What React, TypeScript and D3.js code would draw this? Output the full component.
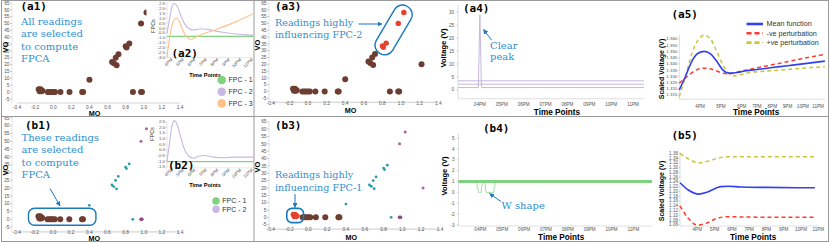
import React from 'react';
import * as d3 from 'd3';

type Pt = [number, number];

// ---- scatter readings (MO, VO) ----
const fpc1Readings: Pt[] = [[-0.16, 2], [-0.15, 0.5], [-0.14, 2], [-0.13, 0.5], [-0.12, 1]];
const otherLowReadings: Pt[] = [[-0.06, 0], [-0.04, 0], [-0.02, 0], [0, 0], [0.02, 0], [0.08, 0], [0.18, 0], [0.32, 0], [0.33, 0]];
const lowReadings: Pt[] = [...fpc1Readings, ...otherLowReadings];
const tealReadings: Pt[] = [[0.4, 9], [0.65, 22], [0.67, 21], [0.69, 25], [0.7, 19.5], [0.72, 27.5], [0.8, 33.5], [0.81, 32.5], [0.84, 35.5], [0.88, 0]];
const magentaReadings: Pt[] = [[0.97, 50], [1.03, 58], [1.22, 20]];
const purpleReadings: Pt[] = [[0.97, 0], [0.98, 0]];
const fpc2Readings: Pt[] = [[0.8, 33.5], [0.81, 32.5], [0.84, 35.5], [0.97, 50], [1.03, 58]];
const allReadings: Pt[] = [...lowReadings, ...tealReadings, ...magentaReadings, ...purpleReadings];

const moTicks = [-0.4, -0.2, 0, 0.2, 0.4, 0.6, 0.8, 1.0, 1.2, 1.4];
const voTicks = [-5, 0, 5, 10, 15, 20, 25, 30, 35, 40, 45, 50, 55, 60, 65];

// ---- FPC insets (hour, value) ----
const hourTicks = [16, 17, 18, 19, 20, 21, 22, 23];
const hourLabels = ['4PM', '5PM', '6PM', '7PM', '8PM', '9PM', '10PM', '11PM'];
const hourLabels0 = ['04PM', '05PM', '06PM', '07PM', '08PM', '09PM', '10PM', '11PM'];

const a2Fpc1: Pt[] = [[15.5, -0.85], [23, -0.85]];
const a2Fpc2: Pt[] = [[15.5, -0.55], [15.7, 0.8], [15.9, 2.0], [16.1, 2.5], [16.35, 2.3], [16.7, 1.3], [17.0, 0.5], [17.4, -0.05], [17.8, -0.2], [18.3, -0.1], [18.8, -0.1], [19.5, -0.25], [20.5, -0.45], [21.5, -0.6], [22.5, -0.7], [23, -0.75]];
const a2Fpc3: Pt[] = [[15.5, -3.0], [15.7, -1.2], [15.95, 0.3], [16.3, 1.0], [16.6, 0.6], [16.9, -0.3], [17.3, -1.0], [17.6, -1.15], [18.0, -0.95], [18.5, -0.65], [19.0, -0.45], [20, -0.05], [21, 0.4], [22, 0.9], [23, 1.45]];
const a2Ticks = [2.5, 2.0, 1.5, 1.0, 0.5, 0, -0.5, -1.0, -1.5, -2.0, -2.5, -3.0];

const b2Fpc1: Pt[] = [[15.5, -1.05], [23, -1.05]];
const b2Fpc2: Pt[] = [[15.5, -1.0], [15.7, 0.5], [15.95, 2.2], [16.15, 2.6], [16.4, 2.2], [16.7, 1.1], [17.0, 0.1], [17.4, -0.55], [17.8, -0.75], [18.3, -0.55], [18.8, -0.5], [19.5, -0.65], [20.5, -0.7], [21.5, -0.65], [23, -0.65]];
const b2Ticks = [2.5, 2.0, 1.5, 1.0, 0.5, 0, -0.5, -1.0, -1.5];

// ---- voltage readings (hour, volts) ----
const a4Readings: Pt[][] = [
  [[15, 3.5], [23.5, 3.5]],
  [[15, 2.2], [23.5, 2.2]],
  [[15, 0.9], [15.93, 0.9], [16.0, 29], [16.07, 0.9], [23.5, 0.9]],
];
const a4Ticks = [0, 5, 10, 15, 20, 25, 30];
const b4Band: Pt[] = [[15, 1], [23.85, 1]];
const b4WReading: Pt[] = [[15, 1], [15.82, 1], [15.92, 0], [16.03, 0], [16.1, 1], [16.2, 1], [16.26, 0], [16.6, 0], [16.7, 1], [23.85, 1]];
const b4Ticks = [5, 4, 3, 2, 1, 0, -1, -2, -3];

// ---- mean function and perturbations (hour, scaled volts) ----
const a5Mean: Pt[] = [[15, 1.319], [15.3, 1.33], [15.6, 1.342], [15.9, 1.3485], [16.2, 1.35], [16.5, 1.348], [16.8, 1.342], [17.1, 1.335], [17.4, 1.3325], [17.8, 1.333], [18.3, 1.3345], [19, 1.3355], [20, 1.337], [21, 1.3385], [22, 1.34], [23.44, 1.3422]];
const a5Neg: Pt[] = [[15, 1.3245], [15.4, 1.33], [15.8, 1.335], [16.2, 1.3365], [16.6, 1.3355], [17.0, 1.333], [17.4, 1.332], [17.8, 1.3335], [18.5, 1.3355], [19.5, 1.338], [20.5, 1.3405], [21.5, 1.343], [22.5, 1.3455], [23.44, 1.3475]];
const a5Pos: Pt[] = [[15, 1.3136], [15.3, 1.33], [15.6, 1.348], [15.9, 1.359], [16.2, 1.363], [16.5, 1.36], [16.8, 1.35], [17.1, 1.339], [17.4, 1.332], [17.7, 1.3303], [18.0, 1.3315], [18.5, 1.333], [19.5, 1.334], [20.5, 1.335], [21.5, 1.336], [22.5, 1.337], [23.44, 1.3378]];
const a5Ticks = [1.36, 1.355, 1.35, 1.345, 1.34, 1.335, 1.33, 1.325, 1.32, 1.315];

const b5Mean: Pt[] = [[15, 1.2365], [15.5, 1.205], [16.1, 1.189], [16.6, 1.198], [17.35, 1.2203], [17.8, 1.222], [18.5, 1.219], [20, 1.217], [22.8, 1.2155]];
const b5Neg: Pt[] = [[15, 1.139], [15.5, 1.085], [16.0, 1.059], [16.5, 1.066], [17.1, 1.086], [17.7, 1.0937], [18.5, 1.093], [20, 1.092], [22.8, 1.092]];
const b5Pos: Pt[] = [[15, 1.36], [15.5, 1.336], [16.1, 1.3205], [16.6, 1.327], [17.2, 1.34], [17.7, 1.3457], [18.5, 1.346], [20, 1.346], [22.8, 1.346]];
const b5Ticks = [1.36, 1.34, 1.32, 1.3, 1.28, 1.26, 1.24, 1.22, 1.2, 1.18, 1.16, 1.14, 1.12, 1.1, 1.08, 1.06];

const legendNames = ['Mean function', '-ve perturbation', '+ve perturbation'];
const fpcNames = ['FPC - 1', 'FPC - 2', 'FPC - 3'];

const BROWN = '#6e3d31';
const RED = '#e4412f';
const TEAL = '#2a9ea7';
const MAGENTA = '#b3609d';
const PURPLE_PT = '#8a4d8a';
const FPC_COLORS = ['#7fd37f', '#c9b7e6', '#ffc088'];
const NOTE = '#2f8fd0';
const NOTE_LINE = '#1c79bf';
const TICK = '#555';
const BLUE = '#3340ee';
const NEG = '#ff3b30';
const POS = '#c9c63e';
const SANS = '"Liberation Sans", Arial, sans-serif';
const SERIF = '"DejaVu Serif", serif';
const MONO = '"DejaVu Sans Mono", monospace';

const key = (p: Pt) => `${p[0]},${p[1]}`;
const fpc1Keys = new Set(fpc1Readings.map(key));
const fpc2Keys = new Set(fpc2Readings.map(key));

function PanelLabel({ x, y, text, size = 11 }: any) {
  return <text x={x} y={y} fontFamily={MONO} fontWeight="bold" fontSize={size}>{text}</text>;
}

function Note({ x, y, lines, step = 12.5, size = 10 }: any) {
  return (
    <text fontFamily={SERIF} fontSize={size} fill={NOTE}>
      {lines.map((l: string, i: number) => <tspan key={i} x={x} y={y + i * step}>{l}</tspan>)}
    </text>
  );
}

function Arrow({ from, to }: any) {
  return <line x1={from[0]} y1={from[1]} x2={to[0]} y2={to[1]} stroke={NOTE_LINE} strokeWidth={1} markerEnd="url(#arrowhead)" />;
}

function ScatterAxes({ x, y, axisX, tickY, moY, voPos }: any) {
  const [x0, x1] = x.range();
  const yb = y(-8);
  return (
    <g fontFamily={SANS}>
      <line x1={axisX} x2={axisX} y1={y(65)} y2={yb} stroke="#d0d0d0" strokeWidth={0.6} />
      <line x1={x0} x2={x1} y1={yb} y2={yb} stroke="#d6d6d6" strokeWidth={1.2} />
      {voTicks.map((v) => (
        <g key={v}>
          <line x1={axisX - 2} x2={axisX} y1={y(v)} y2={y(v)} stroke="#999" strokeWidth={0.5} />
          <text x={axisX - 2.5} y={y(v) + 1.7} fontSize={4.8} textAnchor="end" fill={TICK}>{v}</text>
        </g>
      ))}
      {moTicks.map((v) => (
        <text key={v} x={x(v)} y={tickY} fontSize={4.8} textAnchor="middle" fill={TICK}>{v.toFixed(1)}</text>
      ))}
      <text x={(x0 + x1) / 2 - 4} y={moY} fontSize={7.2} fontWeight="bold" textAnchor="middle">MO</text>
      <text transform={`translate(${voPos[0]},${voPos[1]}) rotate(-90)`} fontSize={7.5} fontWeight="bold" textAnchor="middle">VO</text>
    </g>
  );
}

function Dots({ pts, x, y, r, color }: any) {
  return <g>{pts.map((p: Pt, i: number) => <circle key={i} cx={x(p[0])} cy={y(p[1])} r={r} fill={color} />)}</g>;
}

function FpcInset({ bg, y, yTicks, series, legendAt, legendStep, legendR, label, fpcsPos, timeY }: any) {
  const x = d3.scaleLinear().domain([15.5, 23]).range([167, 253]);
  const line = d3.line<Pt>().x((d) => x(d[0])).y((d) => y(d[1])).curve(d3.curveMonotoneX);
  const [yb, yt] = y.range();
  return (
    <g fontFamily={SANS}>
      <rect x={bg[0]} y={bg[1]} width={bg[2] - bg[0]} height={bg[3] - bg[1]} fill="#fff" />
      <line x1={x(15.5)} x2={x(15.5)} y1={yt} y2={yb} stroke="#ccc" strokeWidth={0.5} />
      <line x1={x(15.5)} x2={x(23)} y1={yb} y2={yb} stroke="#ddd" strokeWidth={0.6} />
      {yTicks.map((v: number) => (
        <g key={v}>
          <line x1={x(15.5) - 1.5} x2={x(15.5)} y1={y(v)} y2={y(v)} stroke="#999" strokeWidth={0.4} />
          <text x={x(15.5) - 2} y={y(v) + 1.5} fontSize={4.4} textAnchor="end" fill={TICK}>{v.toFixed(1)}</text>
        </g>
      ))}
      {hourTicks.map((h, i) => (
        <text key={h} transform={`translate(${x(h)},${yb + 2.5}) rotate(-45)`} fontSize={4.4} textAnchor="end" fill={TICK}>{hourLabels[i]}</text>
      ))}
      {series.map((s: Pt[], i: number) => (
        <path key={i} d={line(s) || ''} fill="none" stroke={FPC_COLORS[i]} strokeWidth={1.1} />
      ))}
      <text transform={`translate(${fpcsPos[0]},${fpcsPos[1]}) rotate(-90)`} fontSize={5.5} textAnchor="middle" fill="#333">FPCs</text>
      <text x={205} y={timeY} fontSize={5.6} fontWeight="bold" textAnchor="middle">Time Points</text>
      {series.map((_: Pt[], i: number) => (
        <g key={i}>
          <circle cx={legendAt[0]} cy={legendAt[1] + i * legendStep} r={legendR} fill={FPC_COLORS[i]} />
          <text x={legendAt[0] + legendR + 2.5} y={legendAt[1] + i * legendStep + 2.4} fontSize={7} fill="#333">{fpcNames[i]}</text>
        </g>
      ))}
      <PanelLabel x={label[0]} y={label[1]} text={label[2]} />
    </g>
  );
}

function VoltageAxes({ x, y, ticks, tickY, titleY, voltPos }: any) {
  const [x0, x1] = x.range();
  const [yb, yt] = y.range();
  return (
    <g fontFamily={SANS}>
      <line x1={x0} x2={x0} y1={yt} y2={yb} stroke="#c8c8c8" strokeWidth={0.6} />
      <line x1={x0} x2={x1} y1={yb} y2={yb} stroke="#d8d8d8" strokeWidth={0.8} />
      {ticks.map((v: number) => (
        <g key={v}>
          <line x1={x0 - 2} x2={x0} y1={y(v)} y2={y(v)} stroke="#aaa" strokeWidth={0.4} />
          <text x={x0 - 4} y={y(v) + 1.6} fontSize={4.6} textAnchor="end" fill={TICK}>{v}</text>
        </g>
      ))}
      {hourTicks.map((h, i) => (
        <text key={h} x={x(h)} y={tickY} fontSize={4.6} textAnchor="middle" fill={TICK}>{hourLabels0[i]}</text>
      ))}
      <text x={(x0 + x1) / 2 + 6} y={titleY} fontSize={8.2} fontWeight="bold" textAnchor="middle">Time Points</text>
      <text transform={`translate(${voltPos[0]},${voltPos[1]}) rotate(-90)`} fontSize={7.6} fontWeight="bold" textAnchor="middle">Voltage (V)</text>
    </g>
  );
}

function PerturbPanel({ x, y, ticks, digits, tickFont, tickY, titleY, scaledPos, mean, neg, pos, legend }: any) {
  const [x0, x1] = [x.range()[0], x.range()[x.range().length - 1]];
  const [yb, yt] = y.range();
  const line = d3.line<Pt>().x((d) => x(d[0])).y((d) => y(d[1])).curve(d3.curveMonotoneX);
  return (
    <g fontFamily={SANS}>
      <line x1={x0} x2={x0} y1={yt} y2={yb} stroke="#c8c8c8" strokeWidth={0.6} />
      <line x1={x0} x2={x1} y1={yb} y2={yb} stroke="#d8d8d8" strokeWidth={0.8} />
      {ticks.map((v: number) => (
        <g key={v}>
          <line x1={x0 - 1.5} x2={x0} y1={y(v)} y2={y(v)} stroke="#aaa" strokeWidth={0.4} />
          <text x={x0 - 2} y={y(v) + 1.5} fontSize={tickFont} textAnchor="end" fill={TICK}>{v.toFixed(digits)}</text>
        </g>
      ))}
      {hourTicks.map((h, i) => (
        <text key={h} x={x(h)} y={tickY} fontSize={4.6} textAnchor="middle" fill={TICK}>{hourLabels[i]}</text>
      ))}
      <path d={line(pos) || ''} fill="none" stroke={POS} strokeWidth={1.5} strokeDasharray="4 3" />
      <path d={line(neg) || ''} fill="none" stroke={NEG} strokeWidth={1.5} strokeDasharray="4 3" />
      <path d={line(mean) || ''} fill="none" stroke={BLUE} strokeWidth={1.6} />
      <text x={(x0 + x1) / 2 + 4} y={titleY} fontSize={8.2} fontWeight="bold" textAnchor="middle">Time Points</text>
      <text transform={`translate(${scaledPos[0]},${scaledPos[1]}) rotate(-90)`} fontSize={7} fontWeight="bold" textAnchor="middle">Scaled Voltage (V)</text>
      {legend && legendNames.map((n, i) => (
        <g key={n}>
          <line x1={legend[0]} x2={legend[0] + 16.5} y1={legend[1] + i * 9.3} y2={legend[1] + i * 9.3}
            stroke={[BLUE, NEG, POS][i]} strokeWidth={2.6} strokeDasharray={i === 0 ? undefined : '5 3'} />
          <text x={legend[0] + 20} y={legend[1] + i * 9.3 + 2.3} fontSize={7.2} fill="#333">{n}</text>
        </g>
      ))}
    </g>
  );
}

export default function App() {
  // a1 / b1 / a3 / b3 scatter scales
  const xa1 = d3.scaleLinear().domain([-0.4, 1.4]).range([17, 180]);
  const ya1 = d3.scaleLinear().domain([-8, 65]).range([103, 3]);
  const xb1 = d3.scaleLinear().domain([-0.4, 1.4]).range([16.7, 180]);
  const yb1 = d3.scaleLinear().domain([-8, 65]).range([231.8, 117.9]);
  const xa3 = d3.scaleLinear().domain([-0.4, 1.4]).range([270.7, 438.3]);
  const ya3 = d3.scaleLinear().domain([-8, 65]).range([102.4, 3]);
  const xb3 = d3.scaleLinear().domain([-0.4, 1.4]).range([270.7, 440]);
  const yb3 = d3.scaleLinear().domain([-8, 65]).range([229.1, 121.75]);

  // inset scales
  const ya2 = d3.scaleLinear().domain([-3, 2.5]).range([57.5, 3.5]);
  const yb2 = d3.scaleLinear().domain([-1.6, 2.5]).range([167.8, 121.7]);

  // voltage panels
  const xa4 = d3.scaleLinear().domain([15, 23.5]).range([458, 644]);
  const ya4 = d3.scaleLinear().domain([-3.4, 32.8]).range([98.7, 5]);
  const xb4 = d3.scaleLinear().domain([15, 23.85]).range([458.5, 652]);
  const yb4 = d3.scaleLinear().domain([-3.1, 5.45]).range([226, 133.3]);
  const lin = (x: any, y: any) => d3.line<Pt>().x((d) => x(d[0])).y((d) => y(d[1]));

  // perturbation panels
  const xa5 = d3.scaleLinear().domain([15, 18, 23.45]).range([679.3, 741.7, 825]);
  const ya5 = d3.scaleLinear().domain([1.3115, 1.3635]).range([99.3, 34.6]);
  const xb5 = d3.scaleLinear().domain([15, 23]).range([680, 818.3]);
  const yb5 = d3.scaleLinear().domain([1.055, 1.367]).range([226, 151.7]);

  // annotation boxes derived from the highlighted readings
  const lowMO = d3.extent(lowReadings, (d) => d[0]) as number[];
  const lowVO = d3.extent(lowReadings, (d) => d[1]) as number[];
  const f1MO = d3.extent(fpc1Readings, (d) => d[0]) as number[];
  const f1VO = d3.extent(fpc1Readings, (d) => d[1]) as number[];
  const f2Sorted = [...fpc2Readings].sort((a, b) => a[1] - b[1]);
  const p1 = [xa3(f2Sorted[0][0]), ya3(f2Sorted[0][1])];
  const p2 = [xa3(f2Sorted[f2Sorted.length - 1][0]), ya3(f2Sorted[f2Sorted.length - 1][1])];
  const f2c = [(p1[0] + p2[0]) / 2, (p1[1] + p2[1]) / 2];
  const f2len = Math.hypot(p2[0] - p1[0], p2[1] - p1[1]) + 14;
  const f2ang = (Math.atan2(p2[0] - p1[0], p1[1] - p2[1]) * 180) / Math.PI;

  return (
    <div style={{ position: 'absolute', left: 0, top: 0 }}>
      <svg width={830} height={243} style={{ display: 'block' }}>
        <defs>
          <marker id="arrowhead" markerWidth={5} markerHeight={5} refX={4.5} refY={2.5} orient="auto" markerUnits="userSpaceOnUse">
            <path d="M0,0 L5,2.5 L0,5 z" fill={NOTE_LINE} />
          </marker>
        </defs>
        <rect width={830} height={243} fill="#fff" />

        {/* (a1) all readings */}
        <ScatterAxes x={xa1} y={ya1} axisX={12} tickY={108.5} moY={116} voPos={[7.5, 47]} />
        <Dots pts={allReadings} x={xa1} y={ya1} r={3} color={BROWN} />
        <PanelLabel x={20.5} y={10} text="(a1)" />
        <Note x={21} y={24.5} lines={['All readings', 'are selected', 'to compute', 'FPCA']} />
        <FpcInset bg={[146.5, 1, 253, 78]} y={ya2} yTicks={a2Ticks} series={[a2Fpc1, a2Fpc2, a2Fpc3]}
          legendAt={[221.7, 80]} legendStep={11.7} legendR={4.3} label={[171.5, 56.5, '(a2)']} fpcsPos={[155, 26]} timeY={76.5} />

        {/* (b1) selected readings */}
        <ScatterAxes x={xb1} y={yb1} axisX={12} tickY={234} moY={240.8} voPos={[7.5, 170]} />
        <Dots pts={tealReadings} x={xb1} y={yb1} r={1.4} color={TEAL} />
        <Dots pts={magentaReadings} x={xb1} y={yb1} r={1.5} color={MAGENTA} />
        <Dots pts={purpleReadings} x={xb1} y={yb1} r={1.8} color={PURPLE_PT} />
        <Dots pts={lowReadings} x={xb1} y={yb1} r={3} color={BROWN} />
        <rect x={xb1(lowMO[0]) - 10} y={yb1(lowVO[1]) - 8} width={xb1(lowMO[1]) - xb1(lowMO[0]) + 23}
          height={yb1(lowVO[0]) - yb1(lowVO[1]) + 14} rx={6} fill="none" stroke={NOTE_LINE} strokeWidth={1.4} />
        <PanelLabel x={25} y={129} text="(b1)" />
        <Note x={21.5} y={140.5} lines={['These readings', 'are selected', 'to compute', 'FPCA']} />
        <Arrow from={[50, 188.5]} to={[60, 206]} />
        <FpcInset bg={[150, 118, 253, 192]} y={yb2} yTicks={b2Ticks} series={[b2Fpc1, b2Fpc2]}
          legendAt={[216, 201]} legendStep={8.3} legendR={3.7} label={[168, 168.5, '(b2)']} fpcsPos={[154, 134]} timeY={186.5} />

        {/* (a3) readings influencing FPC-2 */}
        <ScatterAxes x={xa3} y={ya3} axisX={269} tickY={104.5} moY={113} voPos={[260, 45]} />
        {allReadings.map((p, i) => (
          <circle key={i} cx={xa3(p[0])} cy={ya3(p[1])} r={fpc2Keys.has(key(p)) ? 2.7 : 3} fill={fpc2Keys.has(key(p)) ? RED : BROWN} />
        ))}
        <rect x={-9.5} y={-f2len / 2} width={19} height={f2len} rx={9} fill="none" stroke={NOTE_LINE} strokeWidth={1.4}
          transform={`translate(${f2c[0]},${f2c[1]}) rotate(${f2ang})`} />
        <PanelLabel x={275} y={10} text="(a3)" />
        <Note x={275} y={26} lines={['Readings highly', 'influencing FPC-2']} step={12} size={9.6} />
        <Arrow from={[358.5, 24]} to={[382, 24]} />

        {/* (b3) readings influencing FPC-1 */}
        <ScatterAxes x={xb3} y={yb3} axisX={269} tickY={230.5} moY={240} voPos={[260, 167]} />
        <Dots pts={tealReadings} x={xb3} y={yb3} r={1.4} color={TEAL} />
        <Dots pts={magentaReadings} x={xb3} y={yb3} r={1.5} color={MAGENTA} />
        <Dots pts={purpleReadings} x={xb3} y={yb3} r={1.8} color={PURPLE_PT} />
        {lowReadings.map((p, i) => (
          <circle key={i} cx={xb3(p[0])} cy={yb3(p[1])} r={fpc1Keys.has(key(p)) ? 2.6 : 3} fill={fpc1Keys.has(key(p)) ? RED : BROWN} />
        ))}
        <rect x={xb3(f1MO[0]) - 6.5} y={yb3(f1VO[1]) - 6} width={xb3(f1MO[1]) - xb3(f1MO[0]) + 13}
          height={yb3(f1VO[0]) - yb3(f1VO[1]) + 12} rx={5} fill="none" stroke={NOTE_LINE} strokeWidth={1.6} />
        <PanelLabel x={275} y={129} text="(b3)" />
        <Note x={275} y={178} lines={['Readings highly', 'influencing FPC-1']} step={12.5} size={9.6} />
        <Arrow from={[295, 194]} to={[295, 207.5]} />

        {/* (a4) voltage readings with a clear peak */}
        <VoltageAxes x={xa4} y={ya4} ticks={a4Ticks} tickY={105.5} titleY={114.5} voltPos={[446, 48]} />
        {a4Readings.map((r, i) => (
          <path key={i} d={lin(xa4, ya4)(r) || ''} fill="none" stroke="#bfb0dd" strokeWidth={0.9} />
        ))}
        <PanelLabel x={463} y={12} text="(a4)" />
        <Arrow from={[491.5, 40]} to={[483.5, 29.5]} />
        <Note x={490} y={48.5} lines={['Clear', 'peak']} step={11} />

        {/* (b4) W shape readings */}
        <VoltageAxes x={xb4} y={yb4} ticks={b4Ticks} tickY={230.5} titleY={239.5} voltPos={[447, 176]} />
        <path d={lin(xb4, yb4)(b4WReading) || ''} fill="none" stroke="#8fd68f" strokeWidth={0.8} />
        <path d={lin(xb4, yb4)(b4Band) || ''} fill="none" stroke="#7fd37f" strokeWidth={3} />
        <PanelLabel x={483} y={132} text="(b4)" />
        <Arrow from={[501, 201.5]} to={[489.5, 193.5]} />
        <Note x={501.5} y={208.5} lines={['W shape']} />

        {/* (a5) / (b5) mean function and perturbations */}
        <PerturbPanel x={xa5} y={ya5} ticks={a5Ticks} digits={3} tickFont={4.4} tickY={107.5} titleY={114.5}
          scaledPos={[663.5, 69]} mean={a5Mean} neg={a5Neg} pos={a5Pos} legend={[746.5, 24]} />
        <PanelLabel x={671.5} y={18} text="(a5)" />
        <PerturbPanel x={xb5} y={yb5} ticks={b5Ticks} digits={2} tickFont={4.6} tickY={231} titleY={239.5}
          scaledPos={[663.5, 191]} mean={b5Mean} neg={b5Neg} pos={b5Pos} />
        <PanelLabel x={671.5} y={139} text="(b5)" />

        {/* frame */}
        <rect x={1.5} y={0.5} width={827} height={241} fill="none" stroke="#9a9a9a" strokeWidth={1} />
        <line x1={1.5} x2={828.5} y1={116.5} y2={116.5} stroke="#9a9a9a" strokeWidth={1} />
        <line x1={254} x2={254} y1={0.5} y2={241.5} stroke="#9a9a9a" strokeWidth={1} />
      </svg>
    </div>
  );
}
